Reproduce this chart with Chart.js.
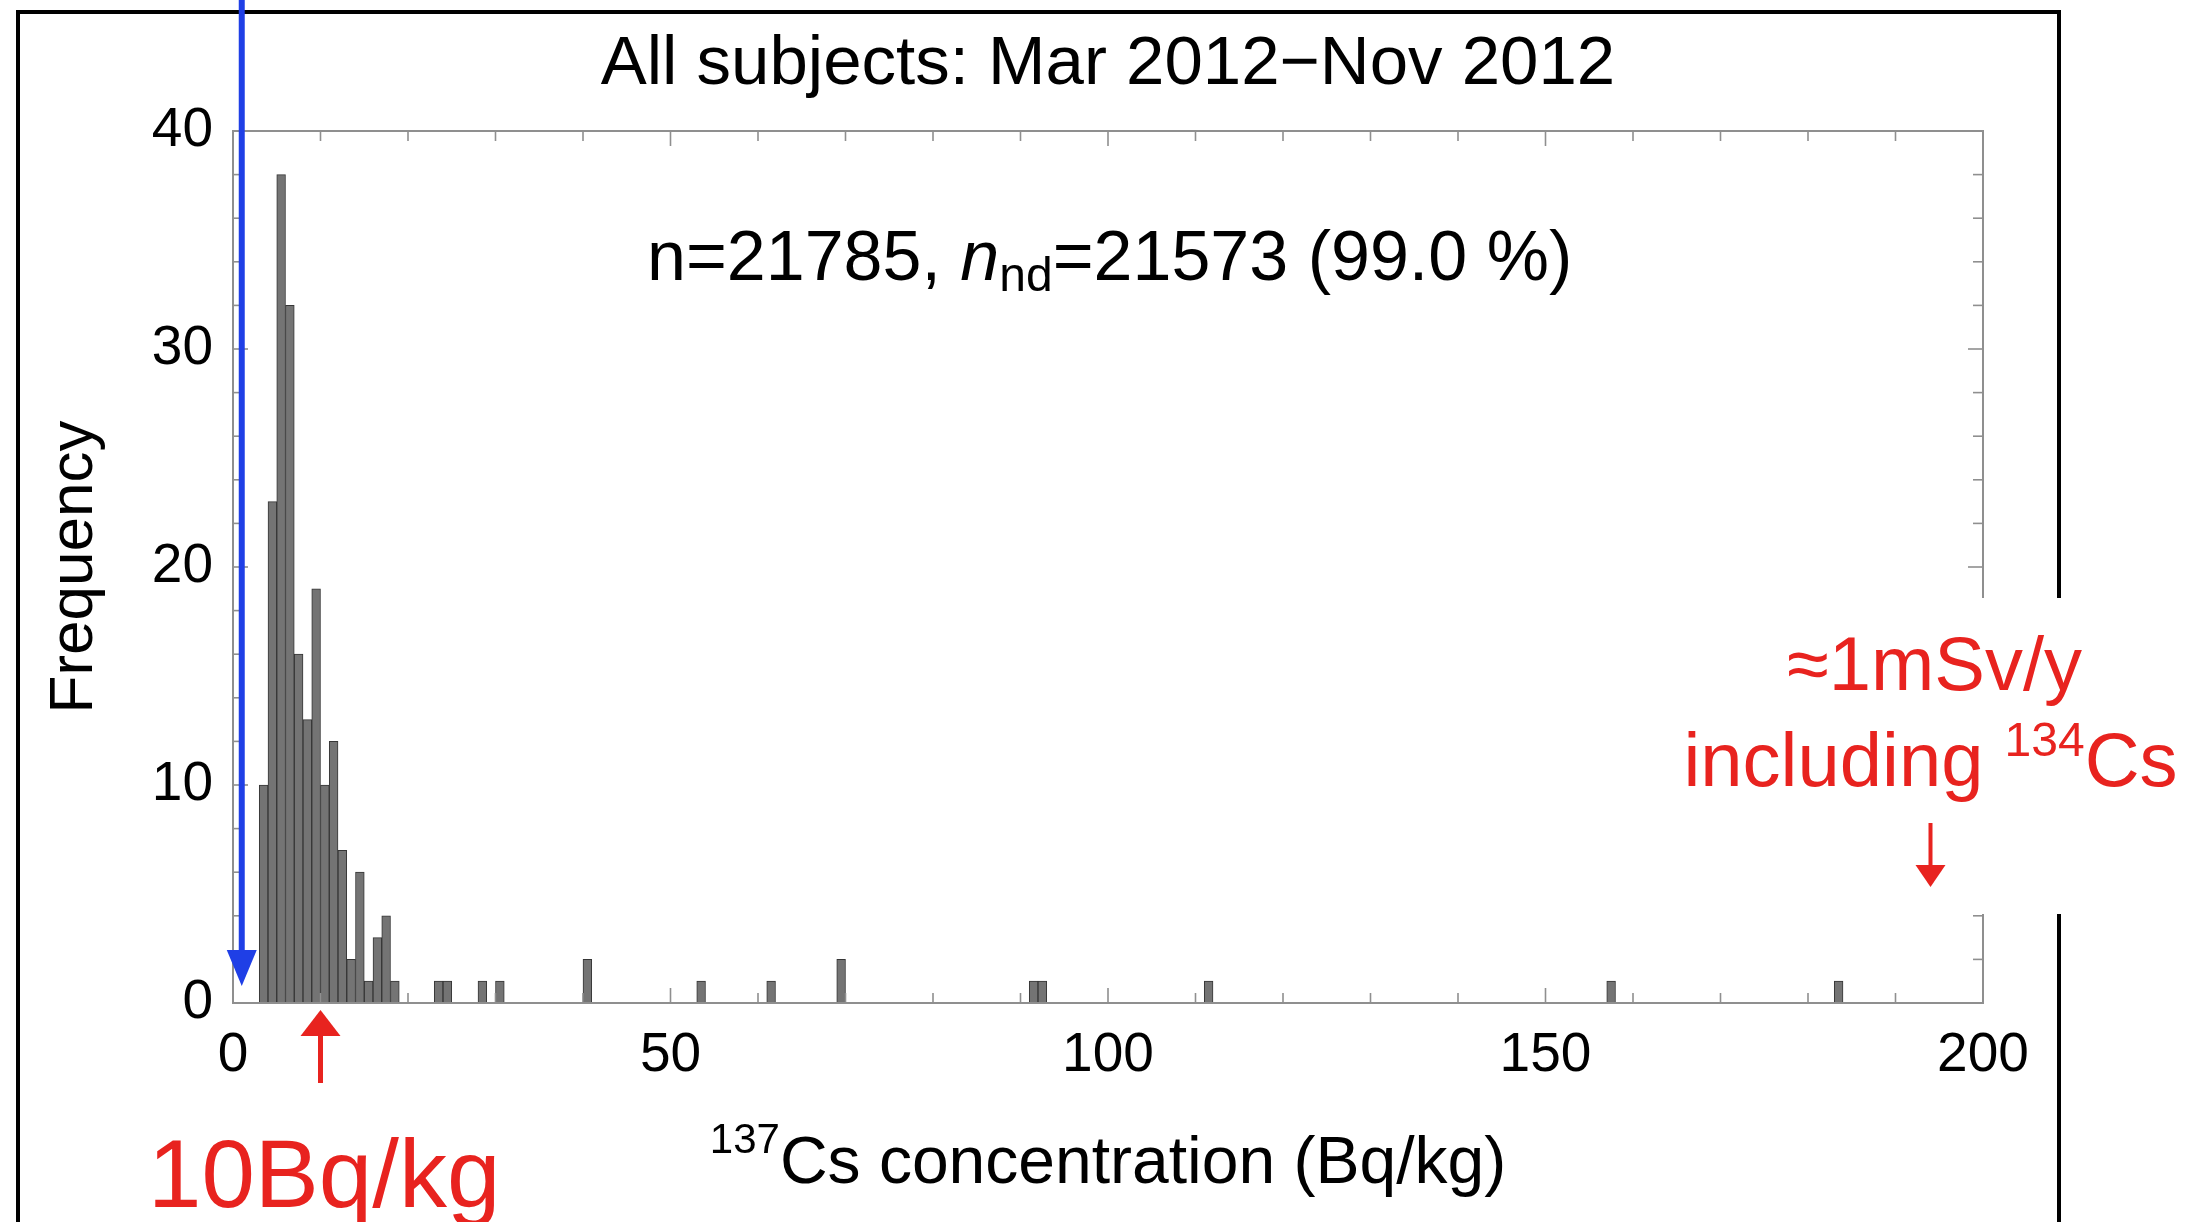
<!DOCTYPE html>
<html>
<head>
<meta charset="utf-8">
<script src="https://cdn.jsdelivr.net/npm/chart.js@4.4.1/dist/chart.umd.min.js"></script>
<style>
  html, body { margin: 0; padding: 0; background: #fff; }
  canvas { display: block; }
</style>
</head>
<body>
<canvas id="hist" width="2208" height="1222"></canvas>
<script>
// 137Cs histogram, 1 Bq/kg bins: lower edge of each non-empty bin and its count
const binLow = [3, 4, 5, 6, 7, 8, 9, 10, 11, 12, 13, 14, 15, 16, 17, 18,
                23, 24, 28, 30, 40, 53, 61, 69, 91, 92, 111, 157, 183];
const counts = [10, 23, 38, 32, 16, 13, 19, 10, 12, 7, 2, 6, 1, 3, 4, 1,
                1, 1, 1, 1, 2, 1, 1, 2, 1, 1, 1, 1, 1];
const xTickLabels = [0, 50, 100, 150, 200];
const yTickLabels = [0, 10, 20, 30, 40];
const nTotal = 21785;
const nNotDetected = 21573;
const limitMarker = 10;    // Bq/kg, red arrow under the axis
const doseMarker = 194;    // Bq/kg, ~1 mSv/y arrow on the right

const FONT = '"Liberation Sans", Arial, Helvetica, sans-serif';
const RED = '#e8231f';
const BLUE = '#1f3fe6';

const points = binLow.map((lo, i) => ({ x: lo + 0.5, y: counts[i] }));

function arrow(ctx, x, yFrom, yTo, width, headW, headH, color) {
  const dir = yTo > yFrom ? 1 : -1;
  ctx.save();
  ctx.strokeStyle = color;
  ctx.fillStyle = color;
  ctx.lineWidth = width;
  ctx.beginPath();
  ctx.moveTo(x, yFrom);
  ctx.lineTo(x, yTo - dir * headH * 0.6);
  ctx.stroke();
  ctx.beginPath();
  ctx.moveTo(x, yTo);
  ctx.lineTo(x - headW / 2, yTo - dir * headH);
  ctx.lineTo(x + headW / 2, yTo - dir * headH);
  ctx.closePath();
  ctx.fill();
  ctx.restore();
}

// text with a leading superscript, e.g. "137Cs ..."; align: 'center' or 'left'
function supText(ctx, sup, main, x, y, size, supSize, rise, color, align) {
  ctx.save();
  ctx.fillStyle = color;
  ctx.textBaseline = 'alphabetic';
  ctx.textAlign = 'left';
  ctx.font = supSize + 'px ' + FONT;
  const wSup = ctx.measureText(sup).width;
  ctx.font = size + 'px ' + FONT;
  const wMain = ctx.measureText(main).width;
  let x0 = align === 'center' ? x - (wSup + wMain) / 2 : x;
  ctx.font = supSize + 'px ' + FONT;
  ctx.fillText(sup, x0, y - rise);
  ctx.font = size + 'px ' + FONT;
  ctx.fillText(main, x0 + wSup, y);
  ctx.restore();
}

const framePlugin = {
  id: 'frameTicks',
  afterDatasetsDraw(chart) {
    const { ctx, chartArea: a, scales: { x, y } } = chart;
    ctx.save();
    ctx.strokeStyle = '#8f8f8f';
    ctx.lineWidth = 1.6;
    const seg = (x1, y1, x2, y2) => {
      ctx.beginPath(); ctx.moveTo(x1, y1); ctx.lineTo(x2, y2); ctx.stroke();
    };
    // inward ticks on all four sides
    x.ticks.forEach(t => {
      const px = x.getPixelForValue(t.value);
      const len = t.value % 50 === 0 ? 15 : 10;
      seg(px, a.bottom, px, a.bottom - len);
      seg(px, a.top, px, a.top + len);
    });
    y.ticks.forEach(t => {
      const py = y.getPixelForValue(t.value);
      const len = t.value % 10 === 0 ? 15 : 10;
      seg(a.left, py, a.left + len, py);
      seg(a.right, py, a.right - len, py);
    });
    ctx.lineWidth = 2;
    ctx.strokeRect(a.left, a.top, a.right - a.left, a.bottom - a.top);
    ctx.restore();
  },
  afterDraw(chart) {
    const { ctx, chartArea: a, scales: { x, y } } = chart;
    const cx = (a.left + a.right) / 2;

    // outer black panel border
    ctx.save();
    ctx.strokeStyle = '#000';
    ctx.lineWidth = 4;
    ctx.beginPath();
    ctx.moveTo(18, 1222);
    ctx.lineTo(18, 12);
    ctx.lineTo(2059, 12);
    ctx.lineTo(2059, 1222);
    ctx.stroke();
    ctx.restore();

    // title
    ctx.save();
    ctx.fillStyle = '#000';
    ctx.font = '69px ' + FONT;
    ctx.textAlign = 'center';
    ctx.fillText('All subjects: Mar 2012\u2212Nov 2012', cx, 84);
    ctx.restore();

    // counts annotation
    const pct = (nNotDetected / nTotal * 100).toFixed(1);
    ctx.save();
    ctx.fillStyle = '#000';
    ctx.textAlign = 'left';
    let px = 647;
    const base = 280;
    const parts = [
      ['70px ' + FONT, 'n=' + nTotal + ', ', 0],
      ['italic 70px ' + FONT, 'n', 0],
      ['48px ' + FONT, 'nd', 11],
      ['70px ' + FONT, '=' + nNotDetected + ' (' + pct + ' %)', 0]
    ];
    parts.forEach(([f, s, dy]) => {
      ctx.font = f;
      ctx.fillText(s, px, base + dy);
      px += ctx.measureText(s).width;
    });
    ctx.restore();

    // axis titles
    supText(ctx, '137', 'Cs concentration (Bq/kg)', cx, 1183, 66, 42, 30, '#000', 'center');
    ctx.save();
    ctx.translate(92, (a.top + a.bottom) / 2);
    ctx.rotate(-Math.PI / 2);
    ctx.fillStyle = '#000';
    ctx.font = '62px ' + FONT;
    ctx.textAlign = 'center';
    ctx.fillText('Frequency', 0, 0);
    ctx.restore();

    // blue arrow down to the origin
    arrow(ctx, x.getPixelForValue(1), 0, a.bottom - 17, 6, 30, 36, BLUE);

    // 10 Bq/kg marker
    const xm = x.getPixelForValue(limitMarker);
    arrow(ctx, xm, 1083, 1010, 5, 40, 26, RED);
    ctx.save();
    ctx.fillStyle = RED;
    ctx.font = '96px ' + FONT;
    ctx.textAlign = 'left';
    ctx.fillText(limitMarker + 'Bq/kg', 148, 1207);
    ctx.restore();

    // ~1 mSv/y box on the right edge
    ctx.save();
    ctx.fillStyle = '#fff';
    ctx.fillRect(1660, 598, 2208 - 1660, 316);
    ctx.fillStyle = RED;
    ctx.font = '76px ' + FONT;
    ctx.textAlign = 'center';
    const xd = x.getPixelForValue(doseMarker);
    ctx.fillText('\u22481mSv/y', xd + 4, 690);
    ctx.restore();
    ctx.save();
    ctx.font = '76px ' + FONT;
    const wInc = ctx.measureText('including ').width;
    ctx.font = '48px ' + FONT;
    const wSup = ctx.measureText('134').width;
    ctx.font = '76px ' + FONT;
    const wCs = ctx.measureText('Cs').width;
    ctx.restore();
    const x0 = xd - (wInc + wSup + wCs) / 2;
    ctx.save();
    ctx.fillStyle = RED;
    ctx.font = '76px ' + FONT;
    ctx.fillText('including ', x0, 786);
    ctx.restore();
    supText(ctx, '134', 'Cs', x0 + wInc, 786, 76, 48, 30, RED, 'left');
    arrow(ctx, xd, 823, 887, 4, 30, 22, RED);
  }
};

new Chart(document.getElementById('hist'), {
  type: 'bar',
  data: {
    datasets: [{
      data: points,
      backgroundColor: '#747474',
      borderColor: '#363636',
      borderWidth: 1,
      categoryPercentage: 1,
      barPercentage: 1
    }]
  },
  options: {
    responsive: false,
    animation: false,
    devicePixelRatio: 1,
    layout: { padding: { top: 131, right: 225, left: 0, bottom: 0 } },
    plugins: { legend: { display: false }, tooltip: { enabled: false } },
    scales: {
      x: {
        type: 'linear',
        offset: false,
        min: 0,
        max: 200,
        grid: { display: false, drawTicks: false, offset: false },
        border: { display: false },
        ticks: {
          stepSize: 10,
          autoSkip: false,
          maxRotation: 0,
          padding: 20,
          color: '#000',
          font: { family: FONT, size: 55 },
          callback: v => xTickLabels.includes(v) ? String(v) : ''
        },
        afterFit: s => { s.height = 219; }
      },
      y: {
        min: 0,
        max: 40,
        grid: { display: false, drawTicks: false },
        border: { display: false },
        ticks: {
          stepSize: 2,
          autoSkip: false,
          padding: 20,
          color: '#000',
          font: { family: FONT, size: 55 },
          callback: v => yTickLabels.includes(v) ? String(v) : ''
        },
        afterFit: s => { s.width = 233; }
      }
    }
  },
  plugins: [framePlugin]
});
</script>
</body>
</html>
